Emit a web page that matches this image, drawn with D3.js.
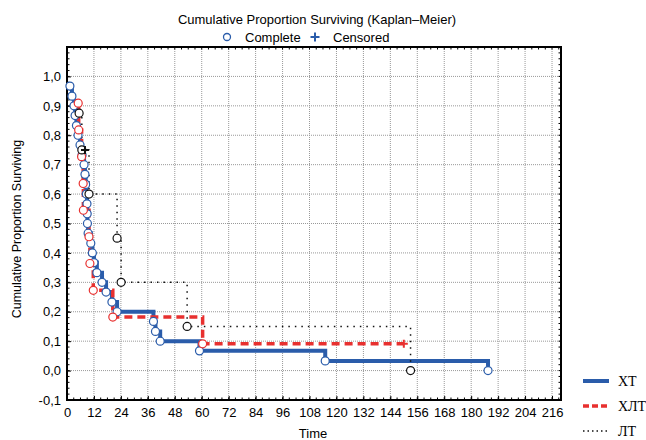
<!DOCTYPE html>
<html>
<head>
<meta charset="utf-8">
<script src="https://cdn.jsdelivr.net/npm/d3@7"></script>
<style>
  body { margin: 0; background: #fff; }
</style>
</head>
<body>
<div id="chart"></div>
<script>
// series: event times and survival after each event
const xtTimes = [1.3, 2.2, 3.1, 3.6, 4.2, 4.9, 5.8, 6.7, 7.6, 8, 8.3, 8.6, 8.9, 9, 9.1, 9.4, 10.6, 11.3, 12, 13.3, 15.6, 17.4, 20, 22.3, 38.5, 39.4, 41.5, 59, 115, 187.5];
const xtSurv = [0.967, 0.933, 0.9, 0.867, 0.833, 0.8, 0.767, 0.733, 0.7, 0.667, 0.633, 0.6, 0.567, 0.533, 0.5, 0.467, 0.433, 0.4, 0.367, 0.333, 0.3, 0.267, 0.233, 0.2, 0.167, 0.133, 0.1, 0.067, 0.033, 0];

const xltTimes = [5, 5.2, 6.5, 7.2, 7.3, 9.8, 10.2, 11.7, 20.4, 60.4];
const xltSurv = [0.909, 0.818, 0.727, 0.636, 0.545, 0.455, 0.364, 0.273, 0.182, 0.091];
const xltCensored = [[150, 0.091]];

const ltTimes = [5.4, 6.6, 9.8, 22.3, 24.1, 53.5, 153];
const ltSurv = [0.875, 0.75, 0.6, 0.45, 0.3, 0.15, 0];
const ltCensored = [[8, 0.75]];

const xTicks = d3.range(0, 217, 12);
const yTicks = d3.range(-1, 11).map(d => d / 10);
const seriesNames = ["ХТ", "ХЛТ", "ЛТ"];

const width = 646, height = 440;
const margin = { top: 47, right: 85, bottom: 40, left: 67 };
const sans = "'Liberation Sans', Arial, sans-serif";

const svg = d3.select("#chart").append("svg")
  .attr("width", width)
  .attr("height", height)
  .style("font-family", sans);

const x = d3.scaleLinear().domain([0, 220]).range([margin.left, width - margin.right]);
const y = d3.scaleLinear().domain([-0.1, 1.1]).range([height - margin.bottom, margin.top]);

const fmt = d => d3.format(".1f")(d).replace(".", ",").replace("−", "-");

// grid
svg.append("g")
  .selectAll("line")
  .data(xTicks.slice(1))
  .join("line")
  .attr("x1", d => x(d)).attr("x2", d => x(d))
  .attr("y1", y(1.1)).attr("y2", y(-0.1))
  .attr("stroke", "#999").attr("stroke-dasharray", "1,1");
svg.append("g")
  .selectAll("line")
  .data(yTicks.slice(1))
  .join("line")
  .attr("x1", x(0)).attr("x2", x(220))
  .attr("y1", d => y(d)).attr("y2", d => y(d))
  .attr("stroke", "#999").attr("stroke-dasharray", "1,1");

// axes with inside ticks
svg.append("g")
  .attr("transform", `translate(0,${y(-0.1)})`)
  .call(d3.axisBottom(x).tickValues(xTicks).tickSize(-4).tickPadding(8).tickFormat(d3.format("d")))
  .call(g => g.select(".domain").remove())
  .call(g => g.selectAll("text").style("font-size", "13px").style("font-family", sans));
svg.append("g")
  .attr("transform", `translate(${x(0)},0)`)
  .call(d3.axisLeft(y).tickValues(yTicks).tickSize(-4).tickPadding(6).tickFormat(fmt))
  .call(g => g.select(".domain").remove())
  .call(g => g.selectAll("text").style("font-size", "13px").style("font-family", sans));

// minor ticks
const xMinor = d3.range(0, 220, 3);
const yMinor = d3.range(-10, 110, 2).map(d => d / 100);
svg.append("g").selectAll("line").data(xMinor).join("line")
  .attr("x1", d => x(d)).attr("x2", d => x(d))
  .attr("y1", y(-0.1)).attr("y2", y(-0.1) - 2.5).attr("stroke", "#000");
svg.append("g").selectAll("line").data(xMinor).join("line")
  .attr("x1", d => x(d)).attr("x2", d => x(d))
  .attr("y1", y(1.1)).attr("y2", y(1.1) + 2.5).attr("stroke", "#000");
svg.append("g").selectAll("line").data(yMinor).join("line")
  .attr("x1", x(0)).attr("x2", x(0) + 2.5)
  .attr("y1", d => y(d)).attr("y2", d => y(d)).attr("stroke", "#000");
svg.append("g").selectAll("line").data(yMinor).join("line")
  .attr("x1", x(220)).attr("x2", x(220) - 2.5)
  .attr("y1", d => y(d)).attr("y2", d => y(d)).attr("stroke", "#000");

// frame
svg.append("rect")
  .attr("x", x(0)).attr("y", y(1.1))
  .attr("width", x(220) - x(0)).attr("height", y(-0.1) - y(1.1))
  .attr("fill", "none").attr("stroke", "#000").attr("stroke-width", 2);

// step curves, starting at the first event as in the original
const step = d3.line().x(d => x(d[0])).y(d => y(d[1])).curve(d3.curveStepAfter);
const pts = (times, surv) => times.map((t, i) => [t, surv[i]]);

const series = [
  { times: xtTimes, surv: xtSurv, cens: [], color: "#2a5caa", w: 4, dash: null },
  { times: xltTimes, surv: xltSurv, cens: xltCensored, color: "#e8302f", w: 3.5, dash: "8,5" },
  { times: ltTimes, surv: ltSurv, cens: ltCensored, color: "#111", w: 1.5, dash: "1.5,5" }
];

series.forEach(s => {
  let p = pts(s.times, s.surv);
  s.cens.forEach(c => { if (c[0] > p[p.length - 1][0]) p.push(c); });
  svg.append("path")
    .attr("d", step(p))
    .attr("fill", "none")
    .attr("stroke", s.color)
    .attr("stroke-width", s.w)
    .attr("stroke-dasharray", s.dash);
});

series.forEach(s => {
  svg.append("g").selectAll("circle")
    .data(pts(s.times, s.surv))
    .join("circle")
    .attr("cx", d => x(d[0])).attr("cy", d => y(d[1]))
    .attr("r", 4)
    .attr("fill", "#fff")
    .attr("stroke", s.color)
    .attr("stroke-width", 1.2);
  svg.append("g").selectAll("path")
    .data(s.cens)
    .join("path")
    .attr("d", d => `M${x(d[0]) - 4},${y(d[1])}h8M${x(d[0])},${y(d[1]) - 4}v8`)
    .attr("stroke", s.color)
    .attr("stroke-width", 2);
});

// titles
svg.append("text")
  .attr("x", 317).attr("y", 24)
  .attr("text-anchor", "middle").style("font-size", "13px")
  .text("Cumulative Proportion Surviving (Kaplan–Meier)");
svg.append("circle")
  .attr("cx", 227).attr("cy", 37).attr("r", 3.5)
  .attr("fill", "none").attr("stroke", "#2a5caa").attr("stroke-width", 1.3);
svg.append("text").attr("x", 245).attr("y", 42).style("font-size", "13px").text("Complete");
svg.append("path")
  .attr("d", "M310.5,37h9M315,32.5v9")
  .attr("stroke", "#2a5caa").attr("stroke-width", 2);
svg.append("text").attr("x", 333).attr("y", 42).style("font-size", "13px").text("Censored");

svg.append("text")
  .attr("transform", `translate(21,229) rotate(-90)`)
  .attr("text-anchor", "middle").style("font-size", "12.5px")
  .text("Cumulative Proportion Surviving");
svg.append("text")
  .attr("x", 313).attr("y", 438)
  .attr("text-anchor", "middle").style("font-size", "13px")
  .text("Time");

// legend
const legend = svg.append("g");
series.forEach((s, i) => {
  const ly = 381 + i * 25;
  legend.append("line")
    .attr("x1", 583).attr("x2", 609).attr("y1", ly).attr("y2", ly)
    .attr("stroke", s.color).attr("stroke-width", s.w)
    .attr("stroke-dasharray", s.dash ? (i === 1 ? "6,3" : "1.5,3") : null);
  legend.append("text")
    .attr("x", 618).attr("y", ly + 5)
    .style("font-family", "'Liberation Serif', 'DejaVu Serif', serif")
    .style("font-size", "14px")
    .text(seriesNames[i]);
});
</script>
</body>
</html>
